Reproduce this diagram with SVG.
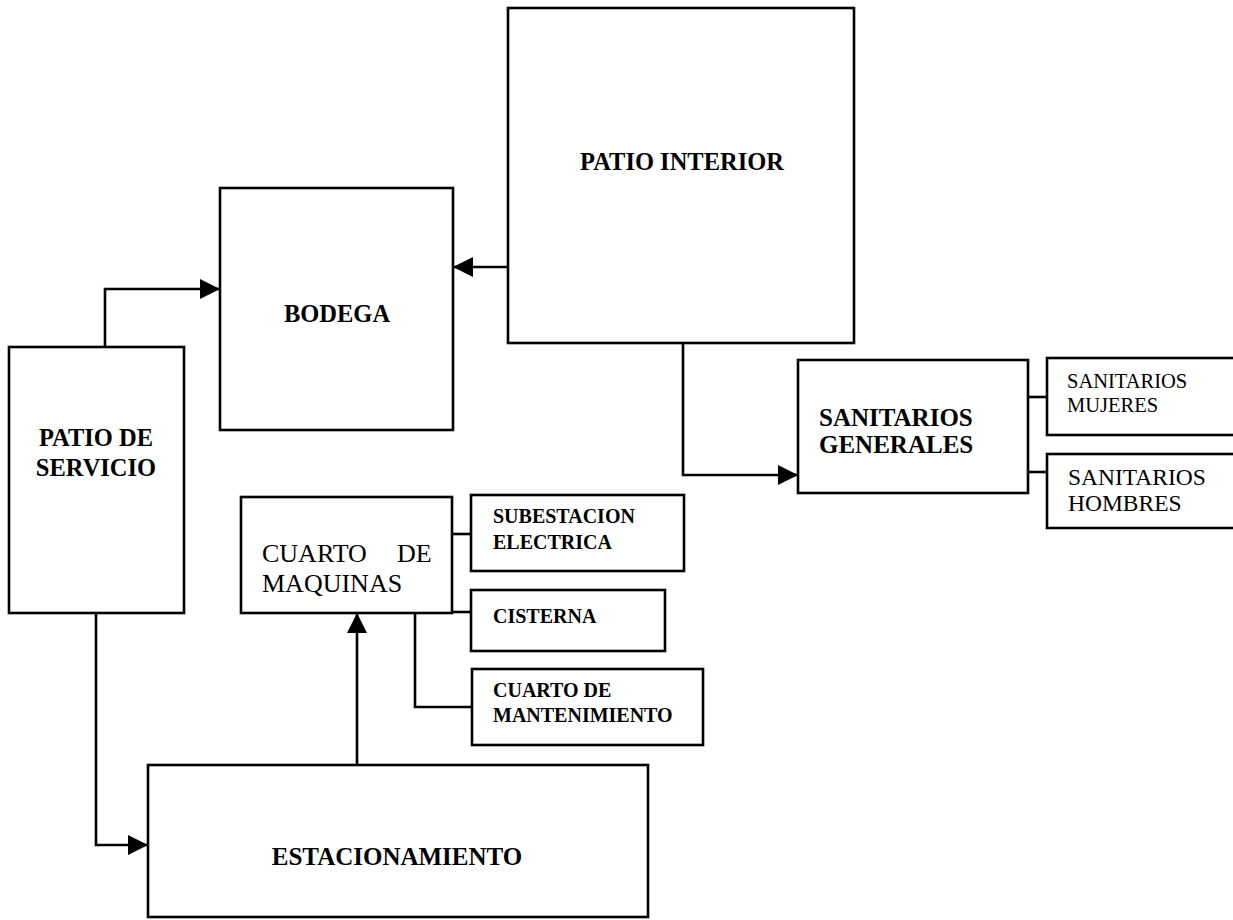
<svg xmlns="http://www.w3.org/2000/svg" width="1233" height="920" viewBox="0 0 1233 920">
<style>
.box{fill:#fff;stroke:#000;stroke-width:2.6}
.c{fill:none;stroke:#000;stroke-width:2.6}
.b{font-family:"Liberation Serif","Times New Roman",serif;font-weight:bold;fill:#000}
.r{font-family:"Liberation Serif","Times New Roman",serif;fill:#000}
</style>
<defs>
<marker id="ah" markerUnits="userSpaceOnUse" markerWidth="20" markerHeight="20" refX="20" refY="10" orient="auto" viewBox="0 0 20 20">
<path d="M0,0 L20,10 L0,20 z" fill="#000"/>
</marker>
</defs>
<rect width="1233" height="920" fill="#fff"/>
<g id="patio-interior">
<rect class="box" x="508" y="8" width="346" height="335"/>
<text class="b" x="682" y="170" font-size="24.5" text-anchor="middle">PATIO INTERIOR</text>
</g>
<g id="bodega">
<rect class="box" x="220" y="188" width="233" height="242"/>
<text class="b" x="337" y="322" font-size="24.5" text-anchor="middle">BODEGA</text>
</g>
<g id="patio-servicio">
<rect class="box" x="9" y="347" width="175" height="266"/>
<text class="b" font-size="24.5" text-anchor="middle"><tspan x="96" y="446">PATIO DE</tspan><tspan x="96" y="476">SERVICIO</tspan></text>
</g>
<g id="sanitarios-generales">
<rect class="box" x="798" y="360" width="230" height="133"/>
<text class="b" font-size="25"><tspan x="819" y="426">SANITARIOS</tspan><tspan x="819" y="453">GENERALES</tspan></text>
</g>
<g id="sanitarios-mujeres">
<rect class="box" x="1047" y="358" width="200" height="77"/>
<text class="r" font-size="20.5"><tspan x="1067" y="388">SANITARIOS</tspan><tspan x="1067" y="412">MUJERES</tspan></text>
</g>
<g id="sanitarios-hombres">
<rect class="box" x="1047" y="454" width="200" height="74"/>
<text class="r" font-size="23.5"><tspan x="1068" y="485">SANITARIOS</tspan><tspan x="1068" y="511">HOMBRES</tspan></text>
</g>
<g id="cuarto-maquinas">
<rect class="box" x="241" y="497" width="211" height="116"/>
<text class="r" font-size="26"><tspan x="262" y="562">CUARTO</tspan><tspan x="397" y="562">DE</tspan><tspan x="262" y="592">MAQUINAS</tspan></text>
</g>
<g id="subestacion">
<rect class="box" x="471" y="495" width="213" height="76"/>
<text class="b" font-size="20"><tspan x="493" y="523">SUBESTACION</tspan><tspan x="493" y="549">ELECTRICA</tspan></text>
</g>
<g id="cisterna">
<rect class="box" x="471" y="590" width="194" height="61"/>
<text class="b" font-size="20" x="493" y="623">CISTERNA</text>
</g>
<g id="cuarto-mantenimiento">
<rect class="box" x="472" y="669" width="231" height="76"/>
<text class="b" font-size="20"><tspan x="493" y="697">CUARTO DE</tspan><tspan x="493" y="722">MANTENIMIENTO</tspan></text>
</g>
<g id="estacionamiento">
<rect class="box" x="148" y="765" width="500" height="152"/>
<text class="b" font-size="25" x="397" y="865" text-anchor="middle">ESTACIONAMIENTO</text>
</g>
<g id="connectors">
<path class="c" d="M508,267 H453" marker-end="url(#ah)"/>
<path class="c" d="M105,347 V289 H220" marker-end="url(#ah)"/>
<path class="c" d="M683,343 V475 H798" marker-end="url(#ah)"/>
<path class="c" d="M96,613 V845 H148" marker-end="url(#ah)"/>
<path class="c" d="M357,765 V613" marker-end="url(#ah)"/>
<path class="c" d="M1028,397 H1047"/>
<path class="c" d="M1028,472 H1047"/>
<path class="c" d="M452,534 H471"/>
<path class="c" d="M452,612 H471"/>
<path class="c" d="M415,613 V707 H472"/>
</g>
</svg>
